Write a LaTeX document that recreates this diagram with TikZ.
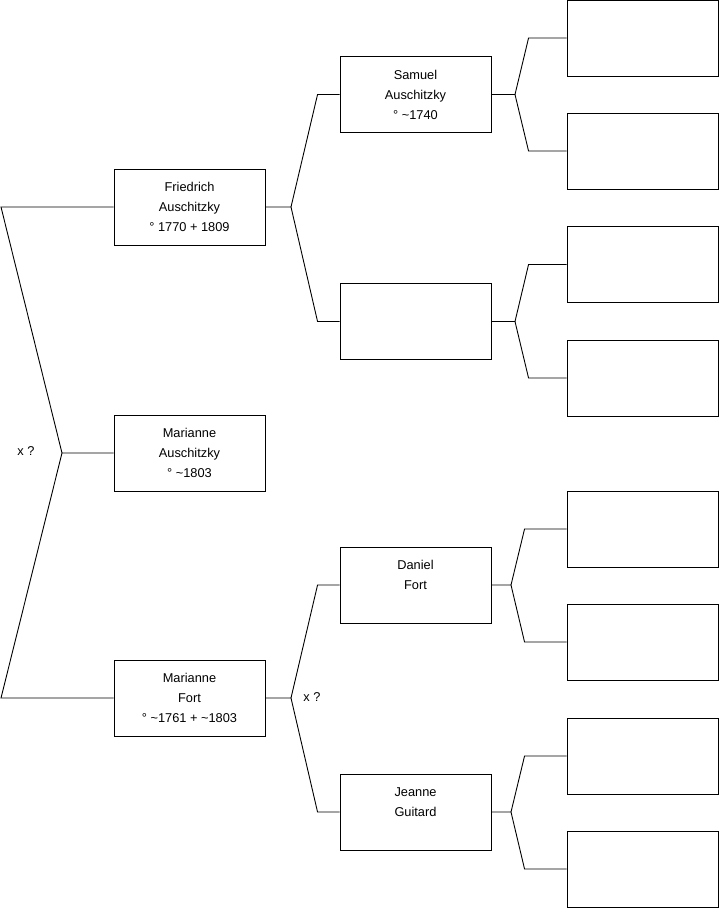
\documentclass[tikz,border=0pt]{standalone}
\usepackage{fontspec}
\setmainfont{Liberation Sans}
\begin{document}
\begin{tikzpicture}[x=1pt,y=-1pt,
  person/.style={draw=black, line width=0.9pt, fill=white, minimum width=151pt, minimum height=76pt,
    inner sep=0pt, align=center, font=\fontsize{12.8}{20}\selectfont},
  link/.style={draw=black, line width=0.9pt},
  note/.style={font=\fontsize{12.8}{20}\selectfont, inner sep=0pt}]
\useasboundingbox (0,0) rectangle (719,908);
% generation 1
\node[person] (ma) at (189.5,453) {Marianne\\Auschitzky\\° \textasciitilde1803};
% generation 2
\node[person] (fr) at (189.5,207) {Friedrich\\Auschitzky\\° 1770 + 1809};
\node[person] (mf) at (189.5,698) {Marianne\\Fort\\° \textasciitilde1761 + \textasciitilde1803};
% generation 3
\node[person] (sa) at (415.5,94.5) {Samuel\\Auschitzky\\° \textasciitilde1740};
\node[person] (em) at (415.5,321.5) {};
\node[person] (da) at (415.5,585) {Daniel\\Fort\\\mbox{}};
\node[person] (je) at (415.5,812) {Jeanne\\Guitard\\\mbox{}};
% generation 4
\node[person] (r1) at (642.5,38) {};
\node[person] (r2) at (642.5,151) {};
\node[person] (r3) at (642.5,264.5) {};
\node[person] (r4) at (642.5,378) {};
\node[person] (r5) at (642.5,529) {};
\node[person] (r6) at (642.5,642) {};
\node[person] (r7) at (642.5,756) {};
\node[person] (r8) at (642.5,869) {};
% fork points
\coordinate (j0) at (62,453);
\coordinate (j0t) at (1,207);
\coordinate (j0b) at (1,698);
\coordinate (j1) at (291,207);
\coordinate (j2) at (291,698);
\coordinate (j3) at (515,94.5);
\coordinate (j4) at (515,321.5);
\coordinate (j5) at (511,585);
\coordinate (j6) at (511,812);
% connectors
\draw[link] (ma.west) -- (j0) -- (j0t) -- (fr.west);
\draw[link] (j0) -- (j0b) -- (mf.west);
\draw[link] (fr.east) -- (j1) -- ([xshift=-22pt]sa.west) -- (sa.west);
\draw[link] (j1) -- ([xshift=-22pt]em.west) -- (em.west);
\draw[link] (mf.east) -- (j2) -- ([xshift=-22pt]da.west) -- (da.west);
\draw[link] (j2) -- ([xshift=-22pt]je.west) -- (je.west);
\draw[link] (sa.east) -- (j3) -- ([xshift=-38pt]r1.west) -- (r1.west);
\draw[link] (j3) -- ([xshift=-38pt]r2.west) -- (r2.west);
\draw[link] (em.east) -- (j4) -- ([xshift=-38pt]r3.west) -- (r3.west);
\draw[link] (j4) -- ([xshift=-38pt]r4.west) -- (r4.west);
\draw[link] (da.east) -- (j5) -- ([xshift=-42pt]r5.west) -- (r5.west);
\draw[link] (j5) -- ([xshift=-42pt]r6.west) -- (r6.west);
\draw[link] (je.east) -- (j6) -- ([xshift=-42pt]r7.west) -- (r7.west);
\draw[link] (j6) -- ([xshift=-42pt]r8.west) -- (r8.west);
% labels
\node[note] (x1) at (26,451) {x ?};
\node[note] (x2) at (312,697) {x ?};
\end{tikzpicture}
\end{document}
